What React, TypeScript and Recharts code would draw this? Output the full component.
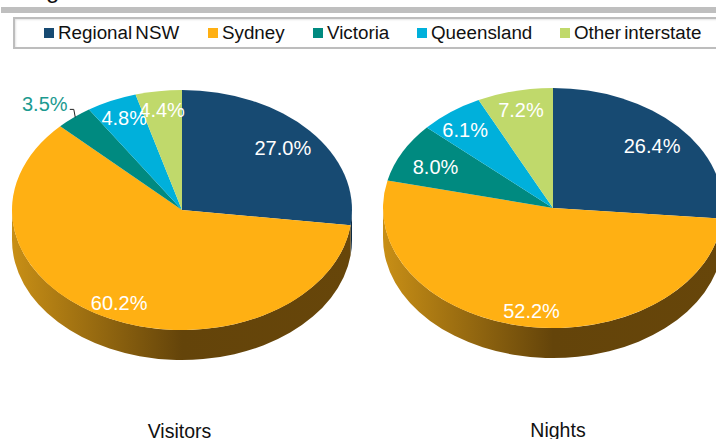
import React from "react";
import { PieChart, Pie, Cell, Legend } from "recharts";

const categories = ["Regional NSW", "Sydney", "Victoria", "Queensland", "Other interstate"];
const visitors = [27.0, 60.2, 3.5, 4.8, 4.4];
const nights = [26.4, 52.2, 8.0, 6.1, 7.2];
const colors = ["#174A72", "#FFB013", "#008A80", "#00B0DB", "#C0D96B"];
const sideColors = ["#0D2B45", "url(#GRAD)", "#005049", "#006A84", "#74823F"];
const legendSwatchX = [44, 208, 313, 417, 560];
const legendTextX = [58, 222, 327, 431, 574];

const visitorRows = categories.map((name, i) => ({ name, value: visitors[i] }));
const nightRows = categories.map((name, i) => ({ name, value: nights[i] }));

const FONT = "'Liberation Sans', Arial, sans-serif";
const RX = 170;
const RY = 120;
const DEPTH = 30;
const RAD = Math.PI / 180;

const pt = (cx: number, cy: number, a: number, dy = 0) =>
  `${cx + RX * Math.cos(a * RAD)} ${cy - RY * Math.sin(a * RAD) + dy}`;

function ellipseSector(props: any) {
  const { cx, cy, startAngle, endAngle, fill, index } = props;
  const hi = Math.min(startAngle, 0);
  const lo = Math.max(endAngle, -180);
  const hasSide = hi > lo;
  const large = Math.abs(startAngle - endAngle) > 180 ? 1 : 0;
  const sideLarge = hi - lo > 180 ? 1 : 0;
  const gradId = `side-${Math.round(cx)}`;
  const side = sideColors[index].replace("GRAD", gradId);
  return (
    <g>
      {index === 1 && (
        <defs>
          <linearGradient id={gradId} gradientUnits="userSpaceOnUse" x1={cx - RX} x2={cx + RX} y1={0} y2={0}>
            <stop offset="0" stopColor="#C88F16" />
            <stop offset="0.5" stopColor="#64440A" />
            <stop offset="1" stopColor="#67460A" />
          </linearGradient>
        </defs>
      )}
      {hasSide && (
        <path
          d={`M${pt(cx, cy, hi)} A${RX} ${RY} 0 ${sideLarge} 1 ${pt(cx, cy, lo)} L${pt(cx, cy, lo, DEPTH)} A${RX} ${RY} 0 ${sideLarge} 0 ${pt(cx, cy, hi, DEPTH)} Z`}
          fill={side}
        />
      )}
      <path
        d={`M${cx} ${cy} L${pt(cx, cy, startAngle)} A${RX} ${RY} 0 ${large} 1 ${pt(cx, cy, endAngle)} Z`}
        fill={fill}
      />
    </g>
  );
}

const makeLabel = (factors: number[][], outside: number) => (props: any) => {
  const { cx, cy, midAngle, index, value } = props;
  const [fx, fy] = factors[index];
  const x = cx + RX * fx * Math.cos(midAngle * RAD);
  const y = cy - RY * fy * Math.sin(midAngle * RAD);
  const isOutside = index === outside;
  return (
    <g>
      <text
        x={x}
        y={y}
        textAnchor="middle"
        dominantBaseline="central"
        fontFamily={FONT}
        fontSize={20}
        fill={isOutside ? "#1B9A90" : "#FFFFFF"}
      >
        {`${value.toFixed(1)}%`}
      </text>
      {isOutside && (
        <polyline
          points={`${x + 25},${y + 5} ${x + 29},${y + 5} ${x + 30.5},${y + 13}`}
          fill="none"
          stroke="#222"
          strokeWidth={1}
        />
      )}
    </g>
  );
};

const visitorFactors = [[0.79, 0.78], [0.85, 0.86], [1.27, 1.14], [0.82, 0.84], [0.85, 0.84]];
const nightFactors = [[0.79, 0.77], [0.79, 0.87], [0.78, 0.74], [0.86, 0.81], [0.84, 0.84]];

function LegendBox() {
  return (
    <div style={{ position: "relative", width: 716, height: 50, fontFamily: FONT, fontSize: 18.8, wordSpacing: -2, color: "#111" }}>
      {categories.map((c, i) => (
        <React.Fragment key={c}>
          <div style={{ position: "absolute", left: legendSwatchX[i], top: 28, width: 10, height: 10, background: colors[i] }} />
          <div style={{ position: "absolute", left: legendTextX[i], top: 22, lineHeight: "22px", whiteSpace: "nowrap" }}>{c}</div>
        </React.Fragment>
      ))}
    </div>
  );
}

export default function App() {
  return (
    <div style={{ position: "absolute", left: 0, top: 0, width: 716, height: 439, overflow: "hidden", background: "#fff" }}>
      <div style={{ position: "absolute", left: 46, top: -24, fontFamily: FONT, fontSize: 24, lineHeight: "28px", color: "#111" }}>g</div>
      <div style={{ position: "absolute", left: 1, top: 7, width: 715, height: 6, background: "#BFBFBF" }} />
      <div style={{ position: "absolute", left: 13, top: 17, width: 720, height: 28, border: "2px solid #BDBDBD", boxShadow: "inset 1px 1px 2px #E4E4E4" }} />
      <PieChart width={716} height={439} margin={{ top: 0, right: 0, bottom: 0, left: 0 }} style={{ position: "absolute", left: 0, top: 0 }}>
        <Legend content={() => <LegendBox />} wrapperStyle={{ left: 0, top: 0, width: 716 }} />
        <Pie data={visitorRows} dataKey="value" nameKey="name" cx={182} cy={210} outerRadius={RX} startAngle={90} endAngle={-270}
          stroke="none" shape={ellipseSector} label={makeLabel(visitorFactors, 2)} labelLine={false} isAnimationActive={false}>
          {visitorRows.map((r, i) => <Cell key={r.name} fill={colors[i]} />)}
        </Pie>
        <Pie data={nightRows} dataKey="value" nameKey="name" cx={553} cy={208} outerRadius={RX} startAngle={90} endAngle={-270}
          stroke="none" shape={ellipseSector} label={makeLabel(nightFactors, -1)} labelLine={false} isAnimationActive={false}>
          {nightRows.map((r, i) => <Cell key={r.name} fill={colors[i]} />)}
        </Pie>
        <text x={179.5} y={438} textAnchor="middle" fontFamily={FONT} fontSize={19.5} fill="#111">Visitors</text>
        <text x={558} y={437} textAnchor="middle" fontFamily={FONT} fontSize={19.5} fill="#111">Nights</text>
      </PieChart>
    </div>
  );
}
